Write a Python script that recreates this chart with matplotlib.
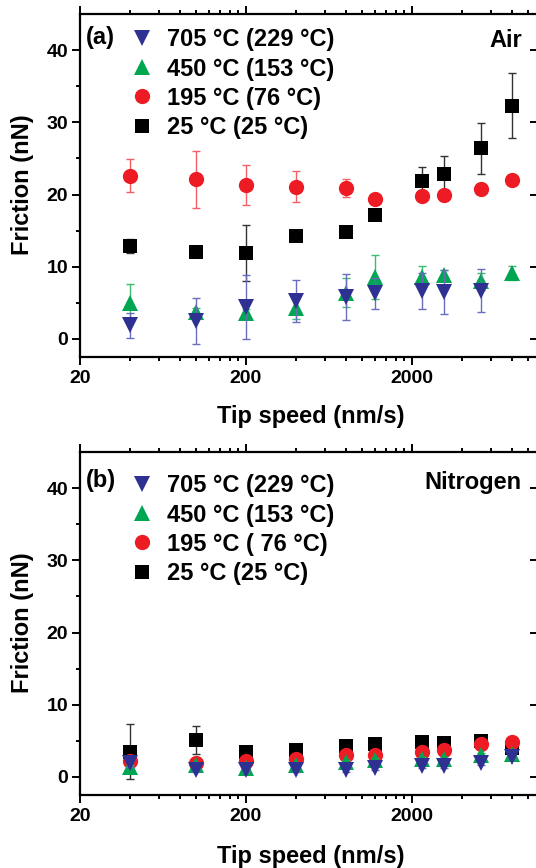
import matplotlib
matplotlib.use("Agg")
import matplotlib.pyplot as plt
from matplotlib.lines import Line2D
from matplotlib.ticker import FixedLocator, FixedFormatter, NullFormatter

plt.rcParams['font.family'] = ['Liberation Sans', 'DejaVu Sans']
plt.rcParams['font.weight'] = 'bold'

# ---------------- data ----------------
speed = [40, 100, 200, 400, 800, 1200, 2300, 3100, 5200, 8000]
speed_blue_air = speed[:9]

# Panel (a): Air
air_705 = [1.9, 2.5, 4.4, 5.3, 5.8, 6.3, 6.7, 6.5, 6.7]
air_705_err = [1.7, 3.2, 4.4, 2.9, 3.2, 2.1, 2.5, 3.0, 3.0]
air_450 = [5.0, 3.8, 3.6, 4.3, 6.4, 8.6, 8.6, 8.8, 8.0, 9.1]
air_450_err = [2.6, 0.5, 0.5, 1.5, 2.0, 3.0, 1.5, 0.8, 1.2, 1.0]
air_195 = [22.6, 22.1, 21.3, 21.1, 20.9, 19.4, 19.8, 20.0, 20.8, 22.0]
air_195_err = [2.3, 3.9, 2.8, 2.2, 1.3, 0.3, 0.3, 0.3, 0.3, 0.3]
air_25 = [12.9, 12.0, 11.9, 14.2, 14.8, 17.2, 21.9, 22.8, 26.4, 32.3]
air_25_err = [1.0, 0.4, 3.9, 0.3, 0.3, 0.3, 1.9, 2.6, 3.5, 4.5]

# Panel (b): Nitrogen
n2_705 = [1.9, 1.0, 1.0, 1.0, 1.0, 1.3, 1.5, 1.5, 2.0, 2.8]
n2_705_err = [0.5, 0.3, 0.3, 0.3, 0.3, 0.3, 0.3, 0.3, 0.3, 0.3]
n2_450 = [1.4, 1.6, 1.2, 1.6, 2.1, 2.3, 2.5, 2.5, 3.0, 3.2]
n2_450_err = [0.3, 0.3, 0.3, 0.3, 0.3, 0.3, 0.3, 0.3, 0.3, 0.3]
n2_195 = [2.2, 2.0, 2.2, 2.5, 3.0, 3.1, 3.5, 3.8, 4.5, 4.8]
n2_195_err = [0.3, 0.3, 0.3, 0.3, 0.3, 0.3, 0.3, 0.3, 0.3, 0.3]
n2_25 = [3.5, 5.1, 3.5, 3.8, 4.3, 4.5, 4.8, 4.7, 5.0, 4.0]
n2_25_err = [3.8, 1.9, 0.6, 0.3, 0.3, 0.3, 0.3, 0.3, 0.3, 0.3]

labels_a = ['705 °C (229 °C)', '450 °C (153 °C)', '195 °C (76 °C)', '25 °C (25 °C)']
labels_b = ['705 °C (229 °C)', '450 °C (153 °C)', '195 °C ( 76 °C)', '25 °C (25 °C)']

x_major = [20, 200, 2000]
x_major_labels = ['20', '200', '2000']
x_minor = [20 * k * 10 ** n for n in range(4) for k in range(2, 10)]
y_major = [0, 10, 20, 30, 40]
y_minor = [5, 15, 25, 35]

# ---------------- styles ----------------
C_BLUE, E_BLUE = '#2E3192', '#6A6DBE'
C_GREEN, E_GREEN = '#00A651', '#3DBB6E'
C_RED, E_RED = '#ED1C24', '#F26065'
C_BLACK, E_BLACK = '#000000', '#333333'
FS = 17
YLIM = (-2.5, 45)
XLIM = (20, 11140)

W, H = 536, 868
fig = plt.figure(figsize=(W / 100, H / 100), dpi=100)


def fx(px):
    return px / W


def fy(py):
    return 1 - py / H


def make_axes(top, bottom):
    left, right = 80, 535.8
    return fig.add_axes([fx(left), fy(bottom), (right - left) / W, (bottom - top) / H])


def style(ax):
    ax.set_xscale('log')
    ax.set_xlim(*XLIM)
    ax.set_ylim(*YLIM)
    ax.xaxis.set_major_locator(FixedLocator(x_major))
    ax.xaxis.set_major_formatter(FixedFormatter(x_major_labels))
    ax.xaxis.set_minor_locator(FixedLocator(x_minor))
    ax.xaxis.set_minor_formatter(NullFormatter())
    ax.yaxis.set_major_locator(FixedLocator(y_major))
    ax.yaxis.set_minor_locator(FixedLocator(y_minor))
    for s in ax.spines.values():
        s.set_linewidth(1.6)
    ax.spines['right'].set_visible(False)
    ax.tick_params(axis='both', which='both', direction='out', width=1.4,
                   labelsize=14, top=True, right=False)
    ax.tick_params(axis='both', which='major', length=5.5)
    ax.tick_params(axis='both', which='minor', length=3)
    ax.tick_params(axis='x', pad=4)
    ax.tick_params(axis='y', pad=3)
    for lab in ax.get_xticklabels() + ax.get_yticklabels():
        lab.set_fontweight('bold')
    # right-side ticks (inward, at the canvas edge; the right spine is cropped off)
    tw = ax.twinx()
    tw.set_ylim(*YLIM)
    tw.set_yticks(y_major)
    tw.set_yticks([], minor=True)
    tw.yaxis.set_tick_params(which='major', left=False, right=True,
                             labelleft=False, labelright=False,
                             direction='in', length=4, width=1.4, color='black')
    for s in tw.spines.values():
        s.set_visible(False)


def series(ax, x, y, e, color, ecolor, marker, ms, z):
    ax.errorbar(x, y, yerr=e, fmt='none', ecolor=ecolor, elinewidth=1.0,
                capsize=3.2, capthick=1.0, zorder=z, clip_on=False)
    ax.plot(x, y, ls='none', marker=marker, color=color, ms=ms, mew=0,
            zorder=z + 0.5, clip_on=False)


def legend(ax, labels, ytop):
    handles = [
        Line2D([], [], ls='none', marker='v', color=C_BLUE, ms=11, mew=0),
        Line2D([], [], ls='none', marker='^', color=C_GREEN, ms=11, mew=0),
        Line2D([], [], ls='none', marker='o', color=C_RED, ms=11, mew=0),
        Line2D([], [], ls='none', marker='s', color=C_BLACK, ms=9.5, mew=0),
    ]
    ax.legend(handles, labels, loc='upper left', bbox_to_anchor=((121 - 80) / 455.8, ytop),
              frameon=False, handlelength=0.95, handletextpad=0.6,
              labelspacing=0.26, borderaxespad=0, prop={'weight': 'bold', 'size': FS})


# ---------------- panel (a) ----------------
axa = make_axes(14, 357)
style(axa)
series(axa, speed, air_25, air_25_err, C_BLACK, E_BLACK, 's', 9.5, 3)
series(axa, speed, air_195, air_195_err, C_RED, E_RED, 'o', 11, 4)
series(axa, speed, air_450, air_450_err, C_GREEN, E_GREEN, '^', 11, 5)
series(axa, speed_blue_air, air_705, air_705_err, C_BLUE, E_BLUE, 'v', 11, 6)
legend(axa, labels_a, 1 - 5 / 343)
axa.text(0.012, 0.932, '(a)', transform=axa.transAxes, fontsize=FS, fontweight='bold',
         ha='left', va='center')
axa.text(0.9695, 0.922, 'Air', transform=axa.transAxes, fontsize=FS, fontweight='bold',
         ha='right', va='center')
fig.text(fx(311), fy(417), 'Tip speed (nm/s)', fontsize=FS, fontweight='bold',
         ha='center', va='center')
fig.text(fx(23), fy(185), 'Friction (nN)', fontsize=FS, fontweight='bold',
         ha='center', va='center', rotation=90)

# ---------------- panel (b) ----------------
axb = make_axes(452, 795)
style(axb)
series(axb, speed, n2_25, n2_25_err, C_BLACK, E_BLACK, 's', 9.5, 3)
series(axb, speed, n2_195, n2_195_err, C_RED, E_RED, 'o', 11, 4)
series(axb, speed, n2_450, n2_450_err, C_GREEN, E_GREEN, '^', 11, 5)
series(axb, speed, n2_705, n2_705_err, C_BLUE, E_BLUE, 'v', 11, 6)
legend(axb, labels_b, 1 - 13 / 343)
axb.text(0.012, 0.918, '(b)', transform=axb.transAxes, fontsize=FS, fontweight='bold',
         ha='left', va='center')
axb.text(0.9695, 0.91, 'Nitrogen', transform=axb.transAxes, fontsize=FS, fontweight='bold',
         ha='right', va='center')
fig.text(fx(311), fy(856), 'Tip speed (nm/s)', fontsize=FS, fontweight='bold',
         ha='center', va='center')
fig.text(fx(23), fy(623), 'Friction (nN)', fontsize=FS, fontweight='bold',
         ha='center', va='center', rotation=90)

fig.savefig('out.png', dpi=100)
